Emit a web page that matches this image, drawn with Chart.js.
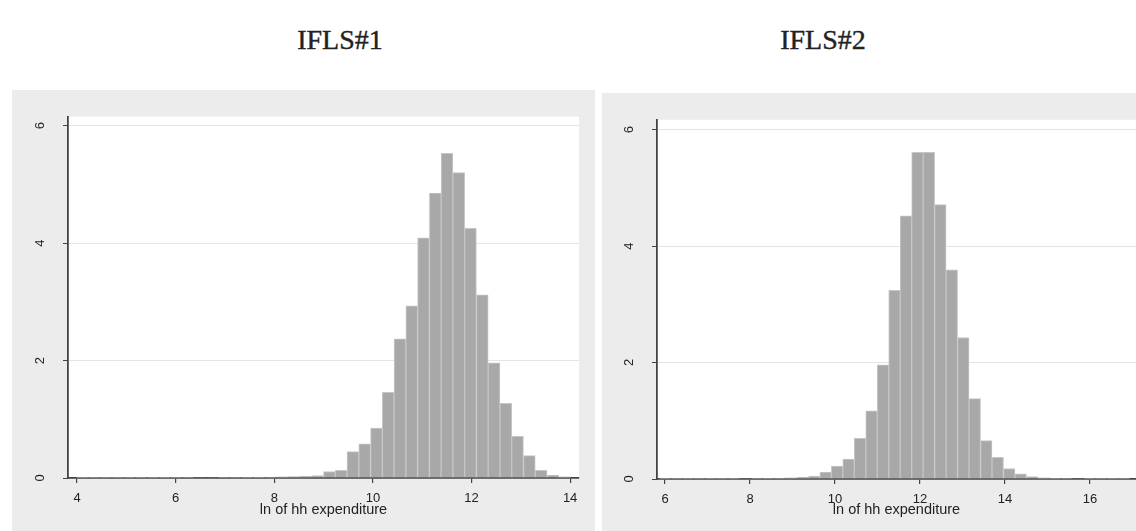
<!DOCTYPE html>
<html><head><meta charset="utf-8">
<script src="https://cdn.jsdelivr.net/npm/chart.js@4.4.1/dist/chart.umd.min.js"></script>
<style>
body{margin:0;background:#fff;width:1136px;height:531px;position:relative;overflow:hidden}
.title{position:absolute;top:26px;font:28px/28px "Liberation Serif",serif;color:#222;-webkit-text-stroke:0.4px #222;transform:translateX(-50%);white-space:nowrap}
canvas{position:absolute;background:#ececec}
</style></head><body>
<div class="title" style="left:340px">IFLS#1</div>
<div class="title" style="left:823px">IFLS#2</div>
<canvas id="wave1" width="583" height="441" style="left:12px;top:90px"></canvas>
<canvas id="wave2" width="534" height="438" style="left:602px;top:93px"></canvas>
<script>
// bin centres (ln of hh expenditure) and density heights
const wave1Bins = [4.110, 4.348, 4.587, 4.825, 5.064, 5.302, 5.541, 5.779, 6.018, 6.256,
    6.495, 6.733, 6.972, 7.210, 7.449, 7.687, 7.926, 8.164, 8.403, 8.641, 8.880,
    9.118, 9.357, 9.595, 9.834, 10.072, 10.311, 10.549, 10.788, 11.026, 11.265,
    11.503, 11.742, 11.980, 12.219, 12.457, 12.696, 12.934, 13.173, 13.411, 13.650, 13.888];
const wave1Density = [0.005, 0.005, 0.004, 0.004, 0.005, 0.005, 0.006, 0.006, 0.006, 0.007,
    0.008, 0.008, 0.01, 0.01, 0.012, 0.014, 0.016, 0.02, 0.025, 0.03, 0.04,
    0.11, 0.13, 0.45, 0.58, 0.85, 1.46, 2.37, 2.93, 4.09, 4.85,
    5.53, 5.20, 4.25, 3.12, 1.96, 1.27, 0.71, 0.38, 0.13, 0.05, 0.02];

const wave2Bins = [5.997, 6.267, 6.537, 6.807, 7.077, 7.347, 7.617, 7.887, 8.157, 8.427,
    8.697, 8.967, 9.237, 9.507, 9.777, 10.047, 10.317, 10.587, 10.857, 11.127,
    11.397, 11.667, 11.937, 12.207, 12.477, 12.747, 13.017, 13.287, 13.557, 13.827,
    14.097, 14.367, 14.637, 14.907, 15.177, 15.447, 15.717, 15.987, 16.257, 16.527, 16.797];
const wave2Density = [0.004, 0.004, 0.005, 0.005, 0.005, 0.006, 0.006, 0.008, 0.01, 0.012,
    0.015, 0.02, 0.03, 0.05, 0.12, 0.22, 0.34, 0.70, 1.17, 1.96,
    3.24, 4.52, 5.61, 5.61, 4.71, 3.59, 2.43, 1.38, 0.66, 0.37,
    0.18, 0.09, 0.04, 0.02, 0.012, 0.01, 0.008, 0.006, 0.005, 0.005, 0.004];

const wave1XTicks = [4, 6, 8, 10, 12, 14];
const wave2XTicks = [6, 8, 10, 12, 14, 16];
const yTicks = [0, 2, 4, 6];
const xLabel = "ln of hh expenditure";

const plotBg = {
    id: "plotBg",
    beforeDraw(chart) {
        const { ctx, chartArea: a } = chart;
        ctx.save();
        ctx.fillStyle = "#fff";
        ctx.fillRect(a.left, a.top, a.right - a.left, a.bottom - a.top);
        ctx.restore();
    }
};

const tickFont = { family: "Liberation Sans", size: 13 };

function drawHistogram(id, bins, density, xTicks, frame) {
    new Chart(document.getElementById(id), {
        type: "bar",
        data: {
            datasets: [{
                data: bins.map((x, i) => ({ x, y: density[i] })),
                backgroundColor: "#a8a8a8",
                borderColor: "#c6c6c6",
                borderWidth: 1,
                borderSkipped: "start",
                barPercentage: 1,
                categoryPercentage: 1
            }]
        },
        options: {
            responsive: false,
            devicePixelRatio: 1,
            animation: false,
            layout: { padding: { top: frame.top, right: frame.right, left: 0, bottom: 0 } },
            plugins: { legend: { display: false }, tooltip: { enabled: false } },
            scales: {
                x: {
                    type: "linear", bounds: "data", min: frame.xMin, max: frame.xMax, offset: false,
                    afterBuildTicks: s => { s.ticks = xTicks.map(value => ({ value })); },
                    afterFit: s => { s.height = frame.bottom; },
                    grid: { drawOnChartArea: false, offset: false, tickLength: 5, tickColor: "#444", lineWidth: 1.2 },
                    border: { color: "#444", width: 1.8 },
                    ticks: { padding: 8, color: "#222", font: tickFont, maxRotation: 0, autoSkip: false },
                    title: { display: true, text: xLabel, color: "#222", font: { family: "Liberation Sans", size: 14.5 }, padding: { top: 0, bottom: 12 } }
                },
                y: {
                    bounds: "data", min: 0, max: frame.yMax,
                    afterBuildTicks: s => { s.ticks = yTicks.map(value => ({ value })); },
                    afterFit: s => { s.width = frame.left; },
                    grid: {
                        color: c => (c.tick && c.tick.value === 0 ? "rgba(0,0,0,0)" : "#e4e4e4"),
                        tickColor: "#444", tickLength: 5, lineWidth: 1
                    },
                    border: { color: "#444", width: 1.8 },
                    ticks: { minRotation: 90, maxRotation: 90, crossAlign: "center", padding: 19, color: "#222", font: tickFont }
                }
            }
        },
        plugins: [plotBg]
    });
}

drawHistogram("wave1", wave1Bins, wave1Density, wave1XTicks,
    { left: 56, top: 18, right: 16, bottom: 53, xMin: 3.817, xMax: 14.18, yMax: 6.15 });
drawHistogram("wave2", wave2Bins, wave2Density, wave2XTicks,
    { left: 55, top: 17, right: 0, bottom: 52, xMin: 5.81, xMax: 17.08, yMax: 6.167 });
</script>
</body></html>
